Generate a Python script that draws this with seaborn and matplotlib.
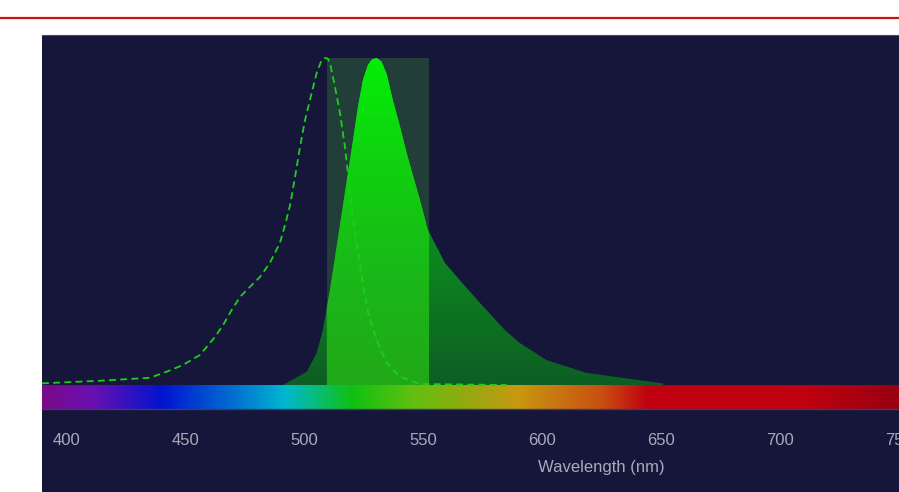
import numpy as np
import matplotlib
matplotlib.use('Agg')
import matplotlib.pyplot as plt
import seaborn as sns
from matplotlib.colors import LinearSegmentedColormap
from matplotlib.lines import Line2D

# excitation spectrum (dashed), normalised
ex_nm = [389.5, 413.9, 434.9, 442.1, 448.8, 456.0, 462.3, 465.7, 469.3, 472.8,
         477.0, 481.2, 485.4, 489.6, 491.8, 493.9, 496.0, 498.1, 500.2, 503.0,
         505.1, 507.2, 508.6, 509.8, 510.7, 512.8, 514.9, 517.0, 518.4, 520.5,
         522.6, 524.7, 526.8, 530.3, 534.6, 540.2, 548.6, 585.0]
ex_val = [0.005, 0.013, 0.022, 0.041, 0.061, 0.092, 0.147, 0.183, 0.229, 0.269,
          0.300, 0.330, 0.373, 0.434, 0.489, 0.550, 0.636, 0.728, 0.810, 0.893,
          0.954, 0.994, 1.000, 0.998, 0.985, 0.912, 0.832, 0.729, 0.637, 0.505,
          0.404, 0.301, 0.220, 0.138, 0.067, 0.025, 0.003, 0.0]

# emission spectrum (filled), normalised
em_nm = [490.9, 501.0, 505.1, 507.7, 510.7, 513.5, 516.2, 518.4, 520.4, 522.5,
         524.6, 526.7, 528.5, 530.3, 532.4, 534.6, 537.2, 540.2, 543.0, 545.8,
         548.6, 551.9, 555.6, 559.1, 565.4, 573.8, 584.3, 590.7, 601.9, 618.7,
         650.8, 651.0]
em_val = [0.0, 0.041, 0.098, 0.168, 0.291, 0.423, 0.550, 0.655, 0.749, 0.851,
          0.933, 0.979, 0.996, 1.000, 0.989, 0.950, 0.870, 0.790, 0.709, 0.637,
          0.566, 0.474, 0.423, 0.373, 0.320, 0.251, 0.168, 0.128, 0.076, 0.037,
          0.005, 0.0]

# emission filter band (nm)
filter_lo, filter_hi = 509.4, 552.4

x_ticks = [400, 450, 500, 550, 600, 650, 700, 750]
x_min, x_max = 389.5, 750.2

# visible spectrum colour stops
spec_nm = [389.5, 410, 440, 475, 492, 520, 545, 570, 590, 625, 645, 710, 750.2]
spec_col = ['#7a0a8a', '#6a10b0', '#0014d0', '#0080d0', '#00b8d0', '#10c010',
            '#60c010', '#98a810', '#c89810', '#c85010', '#c00010', '#c00010',
            '#980010']

BG = '#16163a'
TEXT = '#a9a9bb'

sns.set_style('white')
plt.rcParams['font.family'] = ['Liberation Sans', 'DejaVu Sans']

fig = plt.figure(figsize=(8.99, 4.92), dpi=100)
fig.patch.set_facecolor('white')

# dark panel behind everything
ax_bg = fig.add_axes([42 / 899, 0, 857 / 899, 457 / 492])
ax_bg.set_facecolor(BG)
ax_bg.set_xticks([])
ax_bg.set_yticks([])
for s in ax_bg.spines.values():
    s.set_visible(False)

ax = fig.add_axes([42 / 899, 83 / 492, 857 / 899, 374 / 492])
ax.patch.set_alpha(0)
y_lo, y_hi = -0.0734, 1.0703
ax.set_xlim(x_min, x_max)
ax.set_ylim(y_lo, y_hi)

# filter band
ax.axvspan(filter_lo, filter_hi, ymin=(0 - y_lo) / (y_hi - y_lo),
           ymax=(1 - y_lo) / (y_hi - y_lo), color='#213f38', lw=0, zorder=1)

em_x = np.array(em_nm)
em_y = np.array(em_val)
grad = np.linspace(0, 1, 256).reshape(-1, 1)

# whole emission with a vertical gradient
cmap_out = LinearSegmentedColormap.from_list('out', ['#0e5e24', '#0c8020', '#0c9a1c', '#08e614'])
poly = ax.fill_between(em_x, em_y, 0, facecolor='none', lw=0)
im = ax.imshow(grad, extent=[x_min, x_max, 0, 1], origin='lower', aspect='auto',
               cmap=cmap_out, zorder=2)
im.set_clip_path(poly.get_paths()[0], ax.transData)

# part inside the filter band, brighter
mask = (em_x > filter_lo) & (em_x < filter_hi)
bx = np.concatenate([[filter_lo], em_x[mask], [filter_hi]])
by = np.interp(bx, em_x, em_y)
cmap_in = LinearSegmentedColormap.from_list('in', ['#22a818', '#1ab818', '#10d010', '#04ee06'])
poly_in = ax.fill_between(bx, by, 0, facecolor='none', lw=0)
im_in = ax.imshow(grad, extent=[x_min, x_max, 0, 1], origin='lower', aspect='auto',
                  cmap=cmap_in, zorder=3)
im_in.set_clip_path(poly_in.get_paths()[0], ax.transData)

# excitation dashed line
sns.lineplot(x=ex_nm, y=ex_val, ax=ax, color='#1ad01a', lw=1.3,
             linestyle=(0, (3.8, 2.4)), zorder=4)

# spectrum bar
pos = [(v - x_min) / (x_max - x_min) for v in spec_nm]
cmap_spec = LinearSegmentedColormap.from_list('spec', list(zip(pos, spec_col)))
ax.imshow(np.linspace(0, 1, 512).reshape(1, -1), extent=[x_min, x_max, y_lo, -0.003],
          aspect='auto', cmap=cmap_spec, zorder=2)
ax.set_xlim(x_min, x_max)
ax.set_ylim(y_lo, y_hi)

for k in ['top', 'left', 'right']:
    ax.spines[k].set_visible(False)
ax.spines['bottom'].set_color('#3c3c6c')
ax.spines['bottom'].set_linewidth(1.0)
ax.set_yticks([])
ax.set_xticks(x_ticks)
ax.tick_params(axis='x', colors='#4a4a78', length=5, width=1, pad=12.5,
               labelsize=12, labelcolor=TEXT)
ax.set_xlabel('Wavelength (nm)', color=TEXT, fontsize=12)
ax.xaxis.set_label_coords(0.653, -0.137)

# red rule and panel top edge
fig.add_artist(Line2D([0, 1], [(492 - 18) / 492] * 2, color='#d01010', lw=1.6))
fig.add_artist(Line2D([42 / 899, 1], [(492 - 35) / 492] * 2, color='#4a4a66', lw=0.8))

fig.savefig('out.png', dpi=100, facecolor='white')
